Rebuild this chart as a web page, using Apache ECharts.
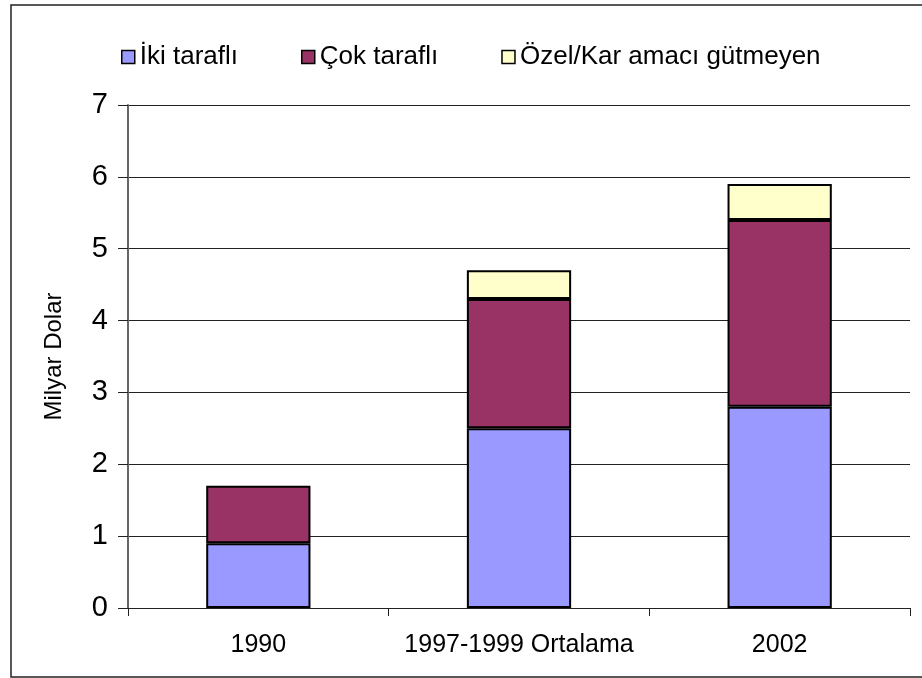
<!DOCTYPE html>
<html>
<head>
<meta charset="utf-8">
<script src="https://cdn.jsdelivr.net/npm/echarts@6/dist/echarts.min.js"></script>
<style>
  html, body { margin: 0; padding: 0; background: #fff; }
  #chart { width: 922px; height: 678px; }
</style>
</head>
<body>
<div id="chart"></div>
<script>
const categories = ['1990', '1997-1999 Ortalama', '2002'];
const ikiTarafli = [0.9, 2.5, 2.8];
const cokTarafli = [0.8, 1.8, 2.6];
// 1990 has no private/non-profit part
const ozelKar = [null, 0.4, 0.5];
const yTicks = [0, 1, 2, 3, 4, 5, 6, 7];

const font = '"Liberation Sans", Arial, sans-serif';
const myChart = echarts.init(document.getElementById('chart'));

function barSeries(name, data, color) {
  return {
    name: name,
    type: 'bar',
    stack: 'total',
    barWidth: '40%',
    itemStyle: { color: color, borderColor: '#000', borderWidth: 2 },
    data: data,
  };
}

const option = {
  animation: false,
  backgroundColor: '#fff',
  graphic: [
    {
      type: 'rect',
      shape: { x: 11, y: 5, width: 960, height: 672 },
      style: { fill: 'none', stroke: '#222', lineWidth: 1.5 },
      silent: true,
    },
  ],
  legend: {
    top: 39,
    left: 116,
    icon: 'rect',
    itemWidth: 13,
    itemHeight: 13,
    itemGap: 63,
    textStyle: { fontFamily: font, fontSize: 26, color: '#000' },
    itemStyle: { borderColor: '#000', borderWidth: 1.5 },
    data: ['İki taraflı', 'Çok taraflı', 'Özel/Kar amacı gütmeyen'],
  },
  grid: { left: 128, right: 12, top: 105, bottom: 70 },
  xAxis: {
    type: 'category',
    data: categories,
    axisLine: { lineStyle: { color: '#222', width: 1 } },
    axisTick: { show: true, length: 8, interval: 0, lineStyle: { color: '#222' } },
    axisLabel: { interval: 0, fontFamily: font, fontSize: 25, color: '#000', margin: 25 },
  },
  yAxis: {
    type: 'value',
    min: yTicks[0],
    max: yTicks[yTicks.length - 1],
    interval: 1,
    name: 'Milyar Dolar',
    nameLocation: 'middle',
    nameGap: 62,
    nameTextStyle: { fontFamily: font, fontSize: 24, color: '#000' },
    axisLine: { show: true, lineStyle: { color: '#666', width: 2 } },
    axisTick: { show: true, length: 10, lineStyle: { color: '#222' } },
    axisLabel: { fontFamily: font, fontSize: 29, color: '#000', margin: 20 },
    splitLine: { show: true, lineStyle: { color: '#222', width: 1 } },
  },
  series: [
    barSeries('İki taraflı', ikiTarafli, '#9999FF'),
    barSeries('Çok taraflı', cokTarafli, '#993366'),
    barSeries('Özel/Kar amacı gütmeyen', ozelKar, '#FFFFCC'),
  ],
};
myChart.setOption(option);
</script>
</body>
</html>
